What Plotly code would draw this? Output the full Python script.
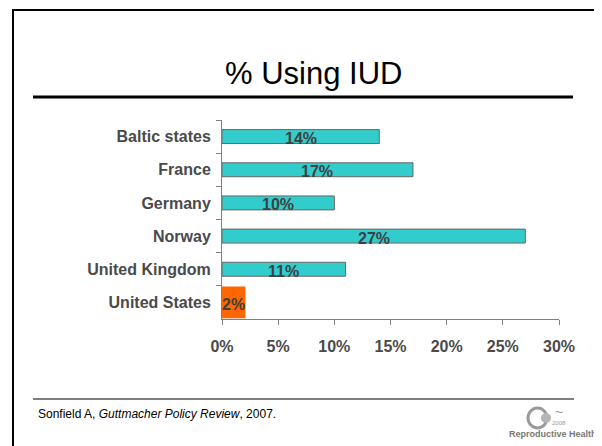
import plotly.graph_objects as go

# data
countries = ['Baltic states', 'France', 'Germany', 'Norway', 'United Kingdom', 'United States']
iud_pct = [14, 17, 10, 27, 11, 2]
highlight = 'United States'

# page body has an 8px margin, so the figure is laid out in page pixels minus that
OFF = 8
W, H = 602 - OFF, 446 - OFF
TEAL = '#33CCCC'
ORANGE = '#FF6600'
GREY_TXT = '#4a4a4a'
FONT = 'Liberation Sans, Arial, sans-serif'


def px_x(x):
    return (x - OFF) / W


def px_y(y):
    return 1 - (y - OFF) / H


def note(x, y, text, size, color='black', weight=400, xanchor='center'):
    fig.add_annotation(x=px_x(x), y=px_y(y), xref='paper', yref='paper',
                       xanchor=xanchor, yanchor='middle', text=text, showarrow=False,
                       font=dict(family=FONT, size=size, color=color, weight=weight))


others = [(c, v) for c, v in zip(countries, iud_pct) if c != highlight]
hl = [(c, v) for c, v in zip(countries, iud_pct) if c == highlight]

fig = go.Figure()
fig.add_trace(go.Bar(
    y=[c for c, _ in others], x=[v for _, v in others],
    orientation='h', width=0.42,
    marker=dict(color=TEAL, line=dict(color='#666666', width=1)),
    hoverinfo='skip',
))
fig.add_trace(go.Bar(
    y=[c for c, _ in hl], x=[v for _, v in hl],
    orientation='h', width=0.9,
    marker=dict(color=ORANGE, line=dict(color=ORANGE, width=2)),
    hoverinfo='skip',
))

# value labels centred on each bar
for c, v in zip(countries, iud_pct):
    fig.add_annotation(x=v / 2, y=c, xref='x', yref='y', text=f'{v}%',
                       xanchor='center', yanchor='middle',
                       showarrow=False, yshift=-2,
                       font=dict(family=FONT, size=16, color='#404040', weight=700))

fig.update_layout(
    width=W, height=H, autosize=False,
    margin=dict(l=0, r=0, t=0, b=0, autoexpand=False),
    paper_bgcolor='white', plot_bgcolor='white',
    showlegend=False, barmode='overlay',
    font=dict(family=FONT),
    xaxis=dict(domain=[px_x(222), px_x(559)], range=[0, 30], dtick=5,
               ticksuffix='%', showgrid=False, zeroline=False, automargin=False,
               showline=True, linecolor='#808080', linewidth=1,
               ticks='outside', ticklen=5, tickcolor='#808080',
               ticklabelstandoff=8,
               tickfont=dict(family=FONT, size=16, color=GREY_TXT, weight=700)),
    yaxis=dict(domain=[px_y(319), px_y(120)], categoryorder='array',
               categoryarray=countries, autorange='reversed',
               showgrid=False, zeroline=False, automargin=False,
               showline=True, linecolor='#808080', linewidth=1,
               ticks='outside', ticklen=5, tickcolor='#808080',
               tickson='boundaries', ticklabelstandoff=7,
               tickfont=dict(family=FONT, size=16, color=GREY_TXT, weight=700)),
)

# slide frame, title rule, footer rule
fig.add_shape(type='rect', xref='paper', yref='paper',
              x0=px_x(13), x1=px_x(600), y0=px_y(470), y1=px_y(10),
              line=dict(color='black', width=2), layer='below')
fig.add_shape(type='line', xref='paper', yref='paper',
              x0=px_x(33), x1=px_x(573), y0=px_y(97), y1=px_y(97),
              line=dict(color='black', width=3))
fig.add_shape(type='line', xref='paper', yref='paper',
              x0=px_x(33), x1=px_x(574), y0=px_y(399), y1=px_y(399),
              line=dict(color='black', width=1.2))

note(313, 74, '% Using IUD', 31)
note(36, 414, 'Sonfield A, <i>Guttmacher Policy Review</i>, 2007.', 12, xanchor='left')

# logo (approximation)
fig.add_shape(type='circle', xref='paper', yref='paper',
              x0=px_x(528), x1=px_x(547), y0=px_y(428), y1=px_y(408),
              line=dict(color='#9a9a9a', width=3))
fig.add_shape(type='circle', xref='paper', yref='paper',
              x0=px_x(541), x1=px_x(551), y0=px_y(423), y1=px_y(413),
              fillcolor='#b5b5b5', line=dict(color='#b5b5b5', width=0))
note(559, 412, '~', 14, color='#9a9a9a')
note(559, 423, '2008', 6, color='#9a9a9a')
note(599, 434, 'Reproductive Health', 9, color='#777777', weight=700, xanchor='right')

fig.write_html('out.html')
